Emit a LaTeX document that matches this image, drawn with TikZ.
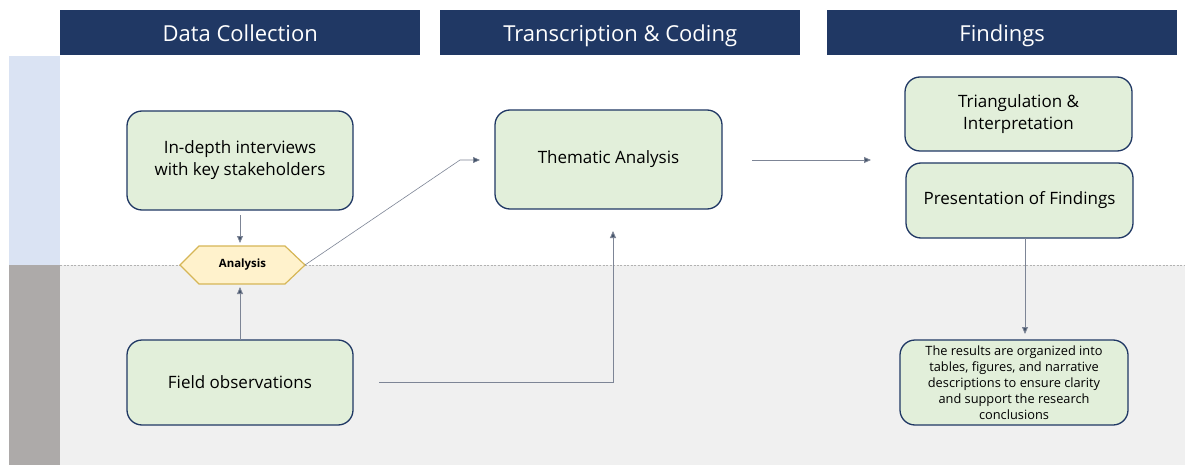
\documentclass[tikz,border=0pt]{standalone}
\usepackage{fontspec}
\setmainfont{Open Sans}
\usetikzlibrary{shapes.geometric,arrows.meta}
\definecolor{navy}{RGB}{32,56,100}
\definecolor{boxfill}{RGB}{226,239,218}
\definecolor{hexfill}{RGB}{255,242,204}
\definecolor{hexline}{RGB}{214,182,86}
\definecolor{lanegrey}{RGB}{240,240,240}
\definecolor{stripblue}{RGB}{218,227,243}
\definecolor{stripgrey}{RGB}{173,170,169}
\definecolor{slate}{RGB}{68,84,106}
\definecolor{thinline}{RGB}{125,133,150}
\tikzset{
  header/.style={fill=navy, text=white, font=\fontsize{22}{26}\selectfont,
    minimum height=45pt, inner sep=0pt, anchor=north west,
    text height=17pt, text depth=0pt},
  procbox/.style={draw=navy, line width=1.3pt, fill=boxfill, rounded corners=15pt,
    align=center, inner sep=0pt, font=\fontsize{17}{22}\selectfont},
  conn/.style={draw=thinline, line width=0.9pt, -{Triangle[length=7pt,width=6pt,fill=slate]}},
  connthin/.style={draw=thinline, line width=0.6pt, -{Triangle[length=7pt,width=6pt,fill=slate]}},
}
\begin{document}
\begin{tikzpicture}[x=1pt,y=-1pt]
\useasboundingbox (0,0) rectangle (1185,465);
% lanes and side strip
\fill[white] (0,0) rectangle (1185,465);
\fill[lanegrey] (60,265) rectangle (1185,465);
\fill[stripblue] (9,56) rectangle (60,265);
\fill[stripgrey] (9,265) rectangle (60,465);
\draw[gray!60, line width=0.5pt, dash pattern=on 2pt off 1.5pt] (60,265) -- (1185,265);
% column headers
\node[header, minimum width=360pt] (h1) at (60,10) {Data Collection};
\node[header, minimum width=360pt] (h2) at (440,10) {Transcription \& Coding};
\node[header, minimum width=350pt] (h3) at (827,10) {Findings};
% process boxes
\node[procbox, minimum width=226pt, minimum height=99pt] (interviews) at (240,160.5)
  {In-depth interviews\\with key stakeholders};
\node[procbox, minimum width=226pt, minimum height=85pt] (field) at (240,382.5)
  {Field observations};
\node[procbox, minimum width=227pt, minimum height=99pt] (thematic) at (608.5,159.5)
  {Thematic Analysis};
\node[procbox, minimum width=227pt, minimum height=74pt] (triang) at (1018.5,114)
  {Triangulation \&\\Interpretation};
\node[procbox, minimum width=227pt, minimum height=75pt] (present) at (1019.5,200.5)
  {Presentation of Findings};
\node[procbox, minimum width=228pt, minimum height=85pt,
  font=\fontsize{12.8}{16}\selectfont] (results) at (1014,382.5)
  {The results are organized into\\tables, figures, and narrative\\descriptions to ensure clarity\\and support the research\\conclusions};
% analysis hexagon
\path[draw=hexline, line width=1.2pt, fill=hexfill]
  (180,265) -- (199,246) -- (285,246) -- (305,265) -- (285,284) -- (199,284) -- cycle;
\node[font=\fontsize{11.4}{13}\selectfont\bfseries, inner sep=0pt] (analysis) at (242.5,265) {Analysis};
\coordinate (hexR) at (305,265);
% connectors
\coordinate (c1) at (240,215);
\coordinate (c2) at (240,243);
\draw[conn] (c1) -- (c2);
\coordinate (c3) at (240,340);
\coordinate (c4) at (240,287);
\draw[conn] (c3) -- (c4);
\coordinate (d1) at (460,160);
\coordinate (d2) at (480,160);
\draw[connthin] (hexR) -- (d1) -- (d2);
\coordinate (f1) at (379,382);
\coordinate (f2) at (613,382);
\coordinate (f3) at (613,231);
\draw[conn] (f1) -- (f2) -- (f3);
\coordinate (t1) at (752,160);
\coordinate (t2) at (871,160);
\draw[conn] (t1) -- (t2);
\coordinate (p1) at (1025,238);
\coordinate (p2) at (1025,334);
\draw[conn] (p1) -- (p2);
\end{tikzpicture}
\end{document}
